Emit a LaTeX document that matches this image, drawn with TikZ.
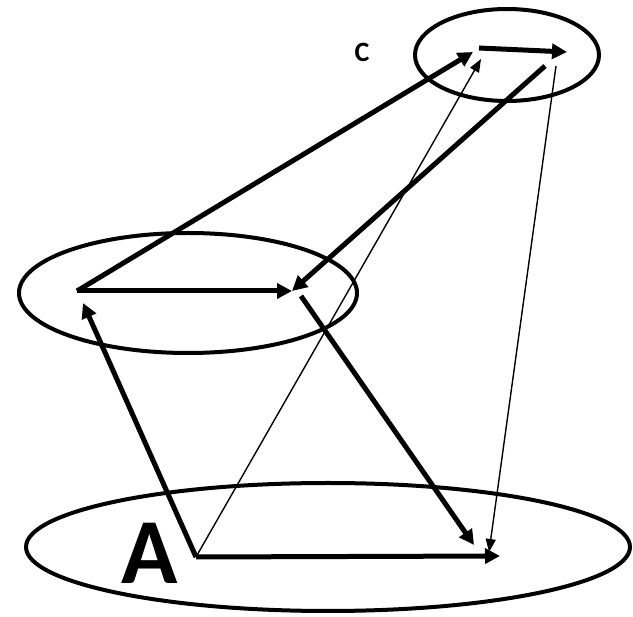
\documentclass[tikz,border=0pt]{standalone}
\usepackage{fontspec}
\setmainfont{Carlito}
\usetikzlibrary{arrows.meta}
\begin{document}
\begin{tikzpicture}[x=1pt,y=-1pt,
  ring/.style={line width=4pt},
  thickarr/.style={line width=5pt,-{Triangle[length=15pt,width=15pt]}},
  thinarr/.style={line width=1.4pt,-{Triangle[length=13pt,width=10pt]}}]
\useasboundingbox (0,0) rectangle (633,617);
\draw[ring] (507,55) ellipse [x radius=92,y radius=46];
\draw[ring] (188,293) ellipse [x radius=169,y radius=60];
\draw[ring] (328,547) ellipse [x radius=302,y radius=64];
\coordinate (a) at (196,557);
\coordinate (aend) at (500,556);
\coordinate (b) at (77,291);
\coordinate (bend) at (292,291);
\coordinate (b2) at (301,296);
\coordinate (c) at (479,48);
\coordinate (cend) at (567,52);
\coordinate (c2) at (545,66);
\coordinate (c3) at (556,66);
\coordinate (tipAB) at (83,303);
\coordinate (tipBC) at (473,52);
\coordinate (tipAC) at (481,59);
\coordinate (tipBA) at (474,545);
\coordinate (tipCA) at (489,552);
\node[font=\bfseries\fontsize{93}{93}\selectfont,inner sep=0pt] (A) at (150,553) {A};
\node[font=\bfseries\fontsize{28}{28}\selectfont,inner sep=0pt] (C) at (362,52) {C};
\draw[thickarr] (a) -- (aend);
\draw[thickarr] (a) -- (tipAB);
\draw[thickarr] (b) -- (bend);
\draw[thickarr] (b) -- (tipBC);
\draw[thickarr] (c) -- (cend);
\draw[thickarr] (c2) -- (bend);
\draw[thickarr] (b2) -- (tipBA);
\draw[thinarr] (a) -- (tipAC);
\draw[thinarr] (c3) -- (tipCA);
\end{tikzpicture}
\end{document}
